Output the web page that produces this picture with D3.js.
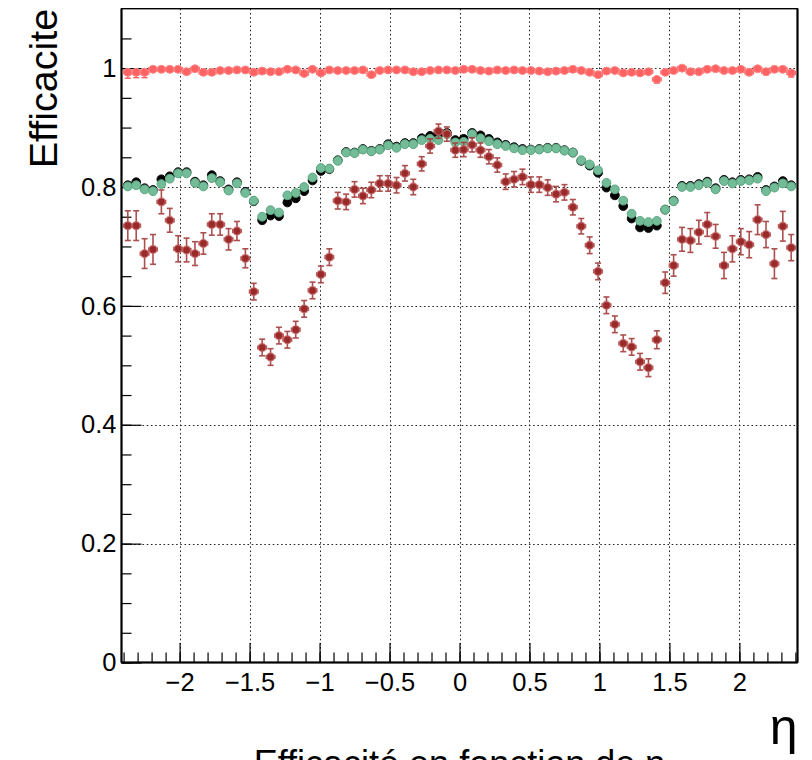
<!DOCTYPE html>
<html>
<head>
<meta charset="utf-8">
<script src="https://cdn.jsdelivr.net/npm/d3@7"></script>
<style>
  html, body { margin: 0; padding: 0; background: #fff; }
  svg { display: block; }
  text { font-family: "Liberation Sans", Arial, Helvetica, sans-serif; }
</style>
</head>
<body>
<svg id="chart" width="812" height="760"></svg>
<script>
// Bin centres in eta: 80 bins of width 0.06 from -2.4 to 2.4
const etaCenters = [
  -2.37,-2.31,-2.25,-2.19,-2.13,-2.07,-2.01,-1.95,-1.89,-1.83,
  -1.77,-1.71,-1.65,-1.59,-1.53,-1.47,-1.41,-1.35,-1.29,-1.23,
  -1.17,-1.11,-1.05,-0.99,-0.93,-0.87,-0.81,-0.75,-0.69,-0.63,
  -0.57,-0.51,-0.45,-0.39,-0.33,-0.27,-0.21,-0.15,-0.09,-0.03,
   0.03, 0.09, 0.15, 0.21, 0.27, 0.33, 0.39, 0.45, 0.51, 0.57,
   0.63, 0.69, 0.75, 0.81, 0.87, 0.93, 0.99, 1.05, 1.11, 1.17,
   1.23, 1.29, 1.35, 1.41, 1.47, 1.53, 1.59, 1.65, 1.71, 1.77,
   1.83, 1.89, 1.95, 2.01, 2.07, 2.13, 2.19, 2.25, 2.31, 2.37
];
const binHalfWidth = 0.03;

// Efficiency near 1 (light red)
const effHigh = [
  0.993,0.993,0.993,0.998,0.998,0.998,0.998,0.994,0.999,0.993,
  0.993,0.996,0.996,0.997,0.997,0.993,0.995,0.994,0.994,0.998,
  0.997,0.991,0.998,0.992,0.997,0.996,0.996,0.996,0.997,0.989,
  0.996,0.997,0.997,0.997,0.994,0.994,0.996,0.997,0.997,0.996,
  0.998,0.998,0.996,0.995,0.997,0.996,0.997,0.996,0.996,0.995,
  0.994,0.995,0.996,0.998,0.996,0.993,0.989,0.995,0.996,0.992,
  0.993,0.992,0.994,0.981,0.993,0.996,1.000,0.994,0.994,0.998,
  0.999,0.996,0.996,0.998,0.993,0.999,0.994,0.998,0.998,0.992
];
const effHighErrLo = [
  0.010,0.009,0.009,0.004,0.004,0.004,0.004,0.004,0.003,0.004,
  0.004,0.004,0.004,0.004,0.004,0.004,0.004,0.004,0.004,0.003,
  0.004,0.004,0.003,0.004,0.003,0.003,0.003,0.003,0.003,0.004,
  0.003,0.003,0.003,0.003,0.003,0.003,0.003,0.003,0.003,0.003,
  0.003,0.003,0.003,0.003,0.003,0.003,0.003,0.003,0.003,0.003,
  0.003,0.003,0.003,0.003,0.003,0.004,0.004,0.003,0.003,0.004,
  0.004,0.004,0.004,0.006,0.004,0.004,0.003,0.004,0.004,0.004,
  0.004,0.004,0.004,0.004,0.005,0.004,0.005,0.004,0.004,0.007
];
const effHighErrHi = [
  0.004,0.004,0.004,0.002,0.002,0.002,0.002,0.002,0.001,0.002,
  0.002,0.002,0.002,0.002,0.002,0.002,0.002,0.002,0.002,0.002,
  0.002,0.002,0.002,0.002,0.002,0.002,0.002,0.002,0.002,0.002,
  0.002,0.002,0.002,0.002,0.002,0.002,0.002,0.002,0.002,0.002,
  0.002,0.002,0.002,0.002,0.002,0.002,0.002,0.002,0.002,0.002,
  0.002,0.002,0.002,0.002,0.002,0.002,0.002,0.002,0.002,0.002,
  0.002,0.002,0.002,0.003,0.002,0.002,0.000,0.002,0.002,0.002,
  0.001,0.002,0.002,0.002,0.002,0.001,0.002,0.002,0.002,0.003
];

// Efficiency, black markers
const effBlack = [
  0.803,0.808,0.798,0.795,0.813,0.818,0.825,0.825,0.809,0.803,
  0.820,0.810,0.796,0.808,0.792,0.776,0.744,0.752,0.751,0.774,
  0.781,0.793,0.811,0.827,0.830,0.845,0.859,0.858,0.864,0.861,
  0.864,0.872,0.868,0.874,0.874,0.882,0.886,0.889,0.891,0.879,
  0.881,0.891,0.887,0.881,0.875,0.871,0.867,0.864,0.863,0.864,
  0.866,0.866,0.862,0.858,0.844,0.836,0.824,0.799,0.786,0.768,
  0.747,0.732,0.731,0.735,0.762,0.777,0.802,0.802,0.805,0.809,
  0.798,0.812,0.808,0.812,0.813,0.817,0.795,0.801,0.810,0.803
];

// Efficiency, green markers
const effGreen = [
  0.801,0.803,0.796,0.793,0.805,0.814,0.823,0.823,0.807,0.801,
  0.815,0.808,0.794,0.806,0.790,0.777,0.750,0.761,0.757,0.786,
  0.790,0.800,0.816,0.832,0.831,0.844,0.858,0.857,0.863,0.860,
  0.863,0.870,0.866,0.872,0.872,0.879,0.881,0.879,0.889,0.875,
  0.876,0.889,0.882,0.877,0.872,0.869,0.865,0.862,0.862,0.863,
  0.865,0.865,0.861,0.858,0.845,0.838,0.828,0.807,0.796,0.777,
  0.755,0.743,0.741,0.743,0.762,0.776,0.800,0.800,0.803,0.807,
  0.796,0.810,0.806,0.810,0.811,0.814,0.793,0.799,0.806,0.801
];
const effSmallErr = 0.004;

// Efficiency, dark red markers
const effLow = [
  0.735,0.735,0.688,0.695,0.775,0.744,0.696,0.694,0.688,0.705,
  0.737,0.737,0.712,0.726,0.680,0.624,0.530,0.514,0.550,0.543,
  0.560,0.595,0.626,0.653,0.682,0.777,0.775,0.796,0.785,0.795,
  0.806,0.806,0.803,0.823,0.800,0.839,0.869,0.894,0.889,0.862,
  0.863,0.871,0.862,0.851,0.837,0.809,0.813,0.817,0.804,0.804,
  0.799,0.788,0.791,0.766,0.734,0.702,0.658,0.601,0.569,0.537,
  0.531,0.506,0.496,0.543,0.639,0.668,0.712,0.710,0.724,0.737,
  0.717,0.668,0.696,0.708,0.703,0.745,0.720,0.671,0.734,0.698
];
const effLowErr = [
  0.025,0.025,0.025,0.025,0.020,0.020,0.022,0.020,0.020,0.018,
  0.018,0.018,0.018,0.016,0.016,0.014,0.014,0.014,0.014,0.014,
  0.014,0.014,0.014,0.014,0.014,0.014,0.013,0.013,0.013,0.013,
  0.013,0.013,0.013,0.013,0.013,0.012,0.012,0.012,0.012,0.012,
  0.012,0.012,0.012,0.012,0.012,0.013,0.013,0.013,0.013,0.013,
  0.013,0.013,0.013,0.013,0.013,0.014,0.014,0.014,0.014,0.014,
  0.014,0.014,0.015,0.015,0.018,0.018,0.020,0.020,0.020,0.020,
  0.020,0.022,0.022,0.022,0.022,0.025,0.022,0.025,0.025,0.022
];

// Axis ticks
const xMajorTicks = [-2, -1.5, -1, -0.5, 0, 0.5, 1, 1.5, 2];
const xMinorTicks = d3.range(-24, 25).map(k => k / 10);
const yMajorTicks = [0, 0.2, 0.4, 0.6, 0.8, 1];
const yMinorTicks = d3.range(0, 22).map(k => k * 0.05);

const yTitle = "Efficacite";
const xTitle = "η";
const bottomTitle = "Efficacité en fonction de η";

// ---------------------------------------------------------------
const svg = d3.select("#chart");
const frame = { left: 121.5, right: 797.5, top: 8.7, bottom: 662.5 };

const x = d3.scaleLinear().domain([-2.415, 2.415]).range([frame.left, frame.right]);
const y = d3.scaleLinear().domain([0, 1.1]).range([frame.bottom, frame.top]);

// Dotted grid at the major ticks
const grid = svg.append("g").attr("stroke", "#000").attr("stroke-width", 1)
  .attr("stroke-dasharray", "1.6,2.6").attr("opacity", 0.85);
grid.selectAll("line.gx").data(xMajorTicks).join("line")
  .attr("x1", d => Math.round(x(d)) + 0.5).attr("x2", d => Math.round(x(d)) + 0.5)
  .attr("y1", frame.top).attr("y2", frame.bottom);
grid.selectAll("line.gy").data(yMajorTicks.filter(d => d > 0)).join("line")
  .attr("y1", d => Math.round(y(d)) + 0.5).attr("y2", d => Math.round(y(d)) + 0.5)
  .attr("x1", frame.left).attr("x2", frame.right);

// Axes with ticks pointing into the frame
const fmt = d3.format("~g");
const xAxisMinor = d3.axisBottom(x).tickValues(xMinorTicks).tickSize(-10).tickFormat("");
const xAxisMajor = d3.axisBottom(x).tickValues(xMajorTicks).tickSize(-19.5).tickPadding(10).tickFormat(fmt);
const yAxisMinor = d3.axisLeft(y).tickValues(yMinorTicks).tickSize(-10).tickFormat("");
const yAxisMajor = d3.axisLeft(y).tickValues(yMajorTicks).tickSize(-20).tickPadding(5).tickFormat(fmt);

function styleAxis(g) {
  g.select(".domain").remove();
  g.selectAll(".tick line").attr("stroke", "#000").attr("stroke-width", 1.2);
  g.selectAll("text").attr("fill", "#000").attr("font-size", 25.5)
    .attr("font-family", "'Liberation Sans', Arial, sans-serif");
}
svg.append("g").attr("transform", `translate(0,${frame.bottom})`).call(xAxisMinor).call(styleAxis);
svg.append("g").attr("transform", `translate(0,${frame.bottom})`).call(xAxisMajor).call(styleAxis);
svg.append("g").attr("transform", `translate(0,${frame.bottom})`).selectAll("text").remove();
svg.append("g").attr("transform", `translate(${frame.left},0)`).call(yAxisMinor).call(styleAxis);
svg.append("g").attr("transform", `translate(${frame.left},0)`).call(yAxisMajor).call(styleAxis);

// Frame
svg.append("rect")
  .attr("x", frame.left).attr("y", frame.top)
  .attr("width", frame.right - frame.left).attr("height", frame.bottom - frame.top)
  .attr("fill", "none").attr("stroke", "#000").attr("stroke-width", 1.4);
svg.append("line").attr("x1", frame.left).attr("x2", frame.left)
  .attr("y1", frame.top).attr("y2", frame.bottom).attr("stroke", "#000").attr("stroke-width", 2);
svg.append("line").attr("x1", frame.left).attr("x2", frame.right)
  .attr("y1", frame.bottom).attr("y2", frame.bottom).attr("stroke", "#000").attr("stroke-width", 2);
svg.append("line").attr("x1", frame.right).attr("x2", frame.right)
  .attr("y1", frame.top).attr("y2", frame.bottom).attr("stroke", "#000").attr("stroke-width", 2);

// Efficiency points with error bars
function drawSeries(vals, errLo, errHi, opt) {
  const pts = vals.map((v, i) => ({ eta: etaCenters[i], v, lo: errLo[i], hi: errHi[i] }));
  const g = svg.append("g");
  const bars = g.append("g").attr("stroke", opt.barColor).attr("stroke-width", opt.barWidth)
    .attr("opacity", opt.barOpacity);
  pts.forEach(p => {
    const cx = x(p.eta), cy = y(p.v);
    const x0 = x(p.eta - binHalfWidth), x1 = x(p.eta + binHalfWidth);
    const y0 = y(p.v - p.lo), y1 = y(p.v + p.hi);
    bars.append("line").attr("x1", x0).attr("x2", x1).attr("y1", cy).attr("y2", cy);
    bars.append("line").attr("x1", cx).attr("x2", cx).attr("y1", y0).attr("y2", y1);
    if (opt.caps) {
      bars.append("line").attr("x1", cx - opt.caps).attr("x2", cx + opt.caps).attr("y1", y0).attr("y2", y0);
      bars.append("line").attr("x1", cx - opt.caps).attr("x2", cx + opt.caps).attr("y1", y1).attr("y2", y1);
      bars.append("line").attr("x1", x0).attr("x2", x0).attr("y1", cy - opt.caps * 0.7).attr("y2", cy + opt.caps * 0.7);
      bars.append("line").attr("x1", x1).attr("x2", x1).attr("y1", cy - opt.caps * 0.7).attr("y2", cy + opt.caps * 0.7);
    }
  });
  g.append("g").selectAll("circle").data(pts).join("circle")
    .attr("cx", d => x(d.eta)).attr("cy", d => y(d.v)).attr("r", opt.r)
    .attr("fill", opt.fill).attr("stroke", opt.stroke).attr("stroke-width", opt.strokeWidth);
}

const smallErr = effGreen.map(() => effSmallErr);

drawSeries(effBlack, smallErr, smallErr, {
  fill: "#000", stroke: "#111", strokeWidth: 1, r: 4.4,
  barColor: "#000", barWidth: 1.5, barOpacity: 1, caps: 0
});
drawSeries(effGreen, smallErr, smallErr, {
  fill: "#72bd97", stroke: "#5ea884", strokeWidth: 1, r: 4.4,
  barColor: "#72bd97", barWidth: 1.5, barOpacity: 1, caps: 0
});
drawSeries(effHigh, effHighErrLo, effHighErrHi, {
  fill: "#ff6262", stroke: "#ff8585", strokeWidth: 1, r: 4,
  barColor: "#ff6262", barWidth: 1.5, barOpacity: 1, caps: 3
});
drawSeries(effLow, effLowErr, effLowErr, {
  fill: "#9a2a2a", stroke: "rgba(200,110,110,0.6)", strokeWidth: 1.6, r: 3.9,
  barColor: "#a43c3c", barWidth: 1.6, barOpacity: 0.9, caps: 3
});

// Titles
svg.append("text")
  .attr("transform", `translate(${frame.left - 65},${frame.top}) rotate(-90)`)
  .attr("text-anchor", "end")
  .attr("font-size", 39.5)
  .attr("fill", "#000")
  .text(yTitle);

svg.append("text")
  .attr("x", frame.right).attr("y", 744)
  .attr("text-anchor", "end")
  .attr("font-family", "'DejaVu Serif', 'Liberation Serif', serif")
  .attr("font-size", 50)
  .attr("fill", "#000")
  .text(xTitle);

svg.append("text")
  .attr("x", (frame.left + frame.right) / 2).attr("y", 776)
  .attr("text-anchor", "middle")
  .attr("font-size", 36)
  .attr("fill", "#000")
  .text(bottomTitle);
</script>
</body>
</html>
